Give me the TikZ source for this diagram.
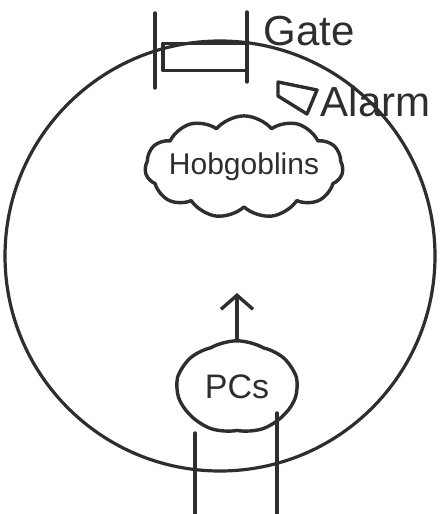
\documentclass[tikz,border=0pt]{standalone}
\usepackage{fontspec}
\setmainfont{Liberation Sans}
\usepackage{tikz}
\usetikzlibrary{arrows,arrows.meta,positioning,shapes.symbols}

\begin{document}
\begin{tikzpicture}[x=1pt, y=-1pt, >={Straight Barb[length=14pt,width=32pt]}, line width=3.4pt, line join=round, line cap=round, color=black!82]
      \tikzstyle{every node}=[inner sep=0pt, text=black!82]
      \tikzstyle{blob}=[cloud, draw, line width=3.4pt]
      \tikzstyle{bigtext}=[font=\fontsize{42}{42}\selectfont]

      \useasboundingbox (0,0) rectangle (440,514);

      \node[circle, draw, line width=3.2pt, minimum size=430pt] (room) at (220,256) {};

      % gate and posts
      \node[draw, minimum width=84pt, minimum height=27pt] (gate) at (205,57) {};
      \draw (155,13) -- (155,88);
      \draw (247,12) -- (247,82);
      \node[bigtext, anchor=west] (gatelabel) at (262,31) {Gate};

      % alarm
      \draw (278,82) -- (317,90) -- (307,114) -- (278,96) -- cycle;
      \node[bigtext, anchor=west] (alarmlabel) at (319,101) {Alarm};

      \node[blob, cloud puffs=11, cloud puff arc=100, aspect=2.4, inner sep=-7pt, minimum width=198pt, minimum height=85pt, font=\fontsize{30}{30}\selectfont] (hob) at (244,167) {Hobgoblins};

      \node[blob, cloud puffs=7, cloud puff arc=60, minimum width=120pt, minimum height=87pt, font=\fontsize{34}{34}\selectfont] (pcs) at (237,387) {PCs};
      \coordinate (goal) at (237,293);
      \path (pcs) edge[->] (goal);

      % corridor
      \draw (195,433) -- (195,514);
      \draw (277,413) -- (277,514);

      \end{tikzpicture}
\end{document}
